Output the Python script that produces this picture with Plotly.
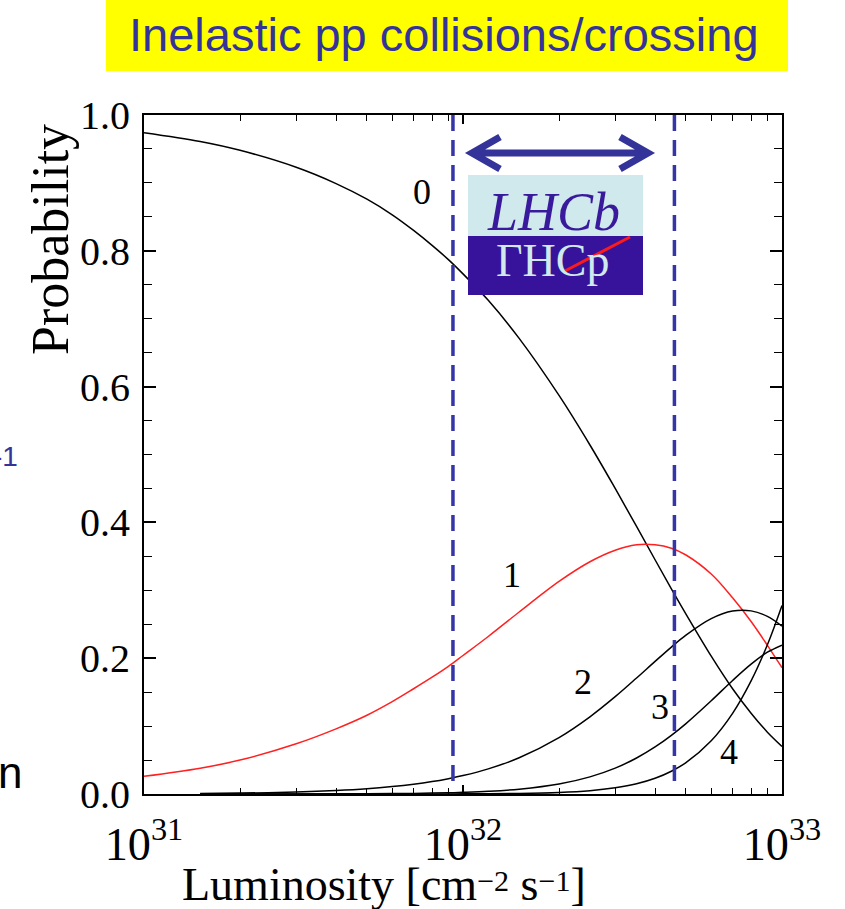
import plotly.graph_objects as go

# ---------------- data ----------------
lum = [1.0e31, 1.5e31, 2e31, 3e31, 4e31, 5e31, 6e31, 7e31, 8e31, 9e31,
       1e32, 1.2e32, 1.5e32, 2e32, 2.5e32, 3e32, 3.5e32, 4e32, 4.5e32, 5e32,
       6e32, 7e32, 8e32, 9e32, 1e33]
p0 = [0.974, 0.961, 0.948, 0.923, 0.899, 0.876, 0.853, 0.830, 0.808, 0.787,
      0.766, 0.727, 0.671, 0.587, 0.514, 0.450, 0.394, 0.345, 0.302, 0.265,
      0.203, 0.155, 0.119, 0.091, 0.070]
p1 = [0.026, 0.038, 0.050, 0.074, 0.096, 0.116, 0.136, 0.155, 0.172, 0.188,
      0.204, 0.232, 0.268, 0.313, 0.342, 0.359, 0.367, 0.367, 0.362, 0.352,
      0.324, 0.289, 0.254, 0.219, 0.186]
lum_hi = [1.5e31, 2e31, 3e31, 4e31, 5e31, 6e31, 7e31, 8e31, 9e31,
          1e32, 1.2e32, 1.5e32, 2e32, 2.5e32, 3e32, 3.5e32, 4e32, 4.5e32, 5e32,
          6e32, 7e32, 8e32, 9e32, 1e33]
p2 = [0.0008, 0.0013, 0.0029, 0.0051, 0.0077, 0.0109, 0.0144, 0.0183, 0.0226,
      0.0271, 0.0370, 0.0534, 0.0831, 0.1137, 0.1433, 0.1708, 0.1953, 0.2164, 0.2339,
      0.2582, 0.2694, 0.2697, 0.2616, 0.2473]
p3 = [0.0000, 0.0000, 0.0001, 0.0002, 0.0003, 0.0006, 0.0009, 0.0013, 0.0018,
      0.0024, 0.0039, 0.0071, 0.0147, 0.0252, 0.0381, 0.0530, 0.0693, 0.0864, 0.1037,
      0.1373, 0.1672, 0.1913, 0.2088, 0.2193]
p4 = [0.0000, 0.0000, 0.0000, 0.0000, 0.0000, 0.0000, 0.0000, 0.0001, 0.0001,
      0.0002, 0.0004, 0.0008, 0.0022, 0.0048, 0.0091, 0.0150, 0.0231, 0.0335, 0.0461,
      0.0783, 0.1187, 0.1665, 0.2197, 0.2776]
curve_labels = ["0", "1", "2", "3", "4"]
window_lum = [9.3e31, 4.6e32]
window_prob = [1.0, 0.012]
y_ticks = [0.0, 0.2, 0.4, 0.6, 0.8, 1.0]

# ---------------- layout geometry ----------------
W, H = 845, 909
L, R, T, B = 144, 782, 115, 794


def px(x):
    return (x - L) / (R - L)


def py(y):
    return (B - y) / (B - T)


SERIF = "Liberation Serif"
SANS = "Liberation Sans"
BLUE = "#33339a"

fig = go.Figure()
for xs, ys, col in [(lum, p0, "black"), (lum, p1, "#ff2020"), (lum_hi, p2, "black"),
                    (lum_hi, p3, "black"), (lum_hi, p4, "black")]:
    fig.add_trace(go.Scatter(x=xs, y=ys, mode="lines", line=dict(color=col, width=1.5, shape="spline"),
                             showlegend=False, hoverinfo="skip"))

for xv in window_lum:
    fig.add_trace(go.Scatter(x=[xv, xv], y=window_prob, mode="lines",
                             line=dict(color="#3535a8", width=3.5, dash="16px,9px"),
                             showlegend=False, hoverinfo="skip", cliponaxis=False))

axis_common = dict(showline=True, linecolor="black", linewidth=1.8, mirror="ticks",
                   ticks="inside", tickcolor="black", showgrid=False, zeroline=False)

fig.update_xaxes(type="log", range=[31, 33], dtick=1, exponentformat="power",
                 ticklen=9, tickwidth=1.5,
                 minor=dict(ticks="inside", ticklen=6, tickwidth=1.3, tickcolor="black", dtick="D1", showgrid=False),
                 tickfont=dict(family=SERIF, size=37, color="black"), ticklabelstandoff=10,
                 **axis_common)
fig.update_yaxes(range=[0, 1], tickvals=y_ticks, tickformat=".1f",
                 ticklen=12, tickwidth=1.5,
                 minor=dict(ticks="inside", ticklen=8, tickwidth=1.3, tickcolor="black", dtick=0.05, showgrid=False),
                 tickfont=dict(family=SERIF, size=40, color="black"), ticklabelstandoff=4,
                 **axis_common)

shapes = []
# yellow title box
shapes.append(dict(type="rect", xref="paper", yref="paper", x0=px(106), x1=px(788), y0=py(71), y1=py(0),
                   fillcolor="#ffff00", line=dict(width=0), layer="below"))
# LHCb logo blocks
shapes.append(dict(type="rect", xref="paper", yref="paper", x0=px(468), x1=px(643), y0=py(236), y1=py(175),
                   fillcolor="#cfe9ec", line=dict(width=0)))
shapes.append(dict(type="rect", xref="paper", yref="paper", x0=px(468), x1=px(643), y0=py(295), y1=py(236),
                   fillcolor="#37139b", line=dict(width=0)))
# double headed arrow
arrow = (f"M {px(472)} {py(153)} L {px(648)} {py(153)} "
         f"M {px(500)} {py(137)} L {px(472)} {py(153)} L {px(500)} {py(169)} "
         f"M {px(620)} {py(137)} L {px(648)} {py(153)} L {px(620)} {py(169)}")
shapes.append(dict(type="path", xref="paper", yref="paper", path=arrow,
                   line=dict(color="#33339a", width=7)))
fig.update_layout(shapes=shapes)

sup_style = "font-size:30px;baseline-shift:9px"
ann = []
# title
ann.append(dict(text="Inelastic pp collisions/crossing", xref="paper", yref="paper", x=px(444), y=py(35),
                showarrow=False, font=dict(family=SANS, size=47, color=BLUE), xanchor="center", yanchor="middle"))
# axis titles
ann.append(dict(text="Probability", xref="paper", yref="paper", x=px(50), y=py(240), textangle=-90,
                showarrow=False, font=dict(family=SERIF, size=52, color="black"), xanchor="center", yanchor="middle"))
ann.append(dict(text=f"Luminosity [cm<span style='{sup_style}'>−2</span> s<span style='{sup_style}'>−1</span>]",
                xref="paper", yref="paper", x=px(384), y=py(884),
                showarrow=False, font=dict(family=SERIF, size=46, color="black"), xanchor="center", yanchor="middle"))
# curve labels
for lab, (xx, yy) in zip(curve_labels, [(422, 192), (512, 575), (583, 682), (660, 707), (729, 752)]):
    ann.append(dict(text=lab, xref="paper", yref="paper", x=px(xx), y=py(yy), showarrow=False,
                    font=dict(family=SERIF, size=36, color="black"), xanchor="center", yanchor="middle"))
# logo text
ann.append(dict(text="<i>LHCb</i>", xref="paper", yref="paper", x=px(553), y=py(212), showarrow=False,
                font=dict(family=SERIF, size=54, color="#3a1a9c"), xanchor="center", yanchor="middle"))
ann.append(dict(text="ΓHCp", xref="paper", yref="paper", x=px(553), y=py(260), showarrow=False,
                font=dict(family=SERIF, size=46, color="#cfe9ec"), xanchor="center", yanchor="middle"))
# cut-off slide fragments at left edge
ann.append(dict(text="-1", xref="paper", yref="paper", x=px(20), y=py(456), showarrow=False,
                font=dict(family=SANS, size=28, color=BLUE), xanchor="right", yanchor="middle"))
ann.append(dict(text="n", xref="paper", yref="paper", x=px(24), y=py(772), showarrow=False,
                font=dict(family=SANS, size=44, color="black"), xanchor="right", yanchor="middle"))
fig.update_layout(annotations=ann)

# red stroke on the logo
fig.add_shape(type="line", xref="paper", yref="paper", x0=px(563), y0=py(272), x1=px(630), y1=py(237),
              line=dict(color="#ff1a1a", width=3))

fig.update_layout(width=W, height=H, margin=dict(l=L, r=W - R, t=T, b=H - B),
                  paper_bgcolor="white", plot_bgcolor="white", showlegend=False)

fig.write_html("out.html", config={"displayModeBar": False},
               post_script="document.body.style.margin='0';document.body.style.overflow='hidden';")
